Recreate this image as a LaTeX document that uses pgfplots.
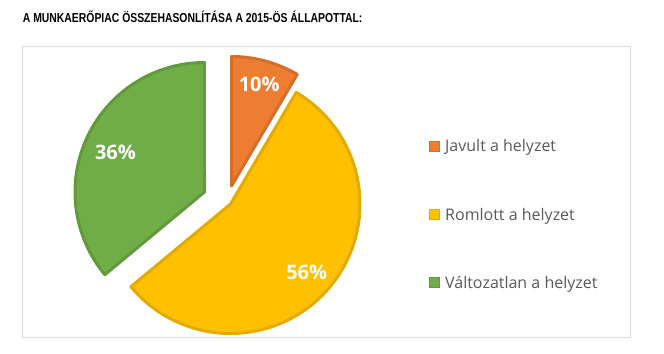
\documentclass[border=0pt]{standalone}
\usepackage{graphicx}
\usepackage{fontspec}
\setmainfont{Open Sans}
\newfontfamily\titlefont{Liberation Sans}
\usepackage{pgfplots}
\pgfplotsset{compat=1.18}
\definecolor{cOr}{HTML}{ED7D31}
\definecolor{cOrD}{HTML}{D46F2B}
\definecolor{cYe}{HTML}{FFC000}
\definecolor{cYeD}{HTML}{E3AB00}
\definecolor{cGr}{HTML}{70AD47}
\definecolor{cGrD}{HTML}{61993C}
\definecolor{cFrame}{HTML}{D9D9D9}
\definecolor{cTxt}{HTML}{595959}
\begin{document}
\begin{tikzpicture}
\begin{axis}[x=1bp, y=1bp, y dir=reverse, xmin=0, xmax=664, ymin=0, ymax=353,
  hide axis, clip=false, scale only axis]
% page extent
\addplot[draw=none, forget plot] coordinates {(0,0) (664,353)};
% frame
\addplot[draw=cFrame, line width=1bp, forget plot] coordinates {(22.5,46) (630.5,46) (630.5,337) (22.5,337) (22.5,46)};
% slices: Javult 10%, Romlott 56%, Valtozatlan 36% (angles clockwise from top, as drawn)
\addplot[fill=cOr, draw=cOrD, line width=3bp, line join=round, domain=0:30.5, samples=41, variable=\t]
  ({231.5+129.5*sin(\t)}, {186-129.5*cos(\t)}) -- (axis cs:231.5,186) -- cycle;
\addplot[fill=cYe, draw=cYeD, line width=3bp, line join=round, domain=30.5:230.3, samples=141, variable=\t]
  ({230.5+129.5*sin(\t)}, {204-129.5*cos(\t)}) -- (axis cs:230.5,204) -- cycle;
\addplot[fill=cGr, draw=cGrD, line width=3bp, line join=round, domain=230.3:360, samples=91, variable=\t]
  ({204.5+129.5*sin(\t)}, {192-129.5*cos(\t)}) -- (axis cs:204.5,192) -- cycle;
% legend squares
\addplot[only marks, mark=square*, mark size=5bp, mark options={fill=cOr, draw=cOrD, line width=0.8bp}] coordinates {(434.3,146.2)};
\addplot[only marks, mark=square*, mark size=5bp, mark options={fill=cYe, draw=cYeD, line width=0.8bp}] coordinates {(434.3,214.3)};
\addplot[only marks, mark=square*, mark size=5bp, mark options={fill=cGr, draw=cGrD, line width=0.8bp}] coordinates {(434.3,282.8)};
% texts
\node[anchor=base west, inner sep=0pt] at (axis cs:22.7,22.7) {\scalebox{0.8}[1]{\titlefont\bfseries\fontsize{13bp}{15bp}\selectfont A MUNKAERŐPIAC ÖSSZEHASONLÍTÁSA A 2015-ÖS ÁLLAPOTTAL:}};
\node[anchor=base west, inner sep=0pt, text=cTxt] at (axis cs:445,151.7) {\fontsize{16bp}{19bp}\selectfont Javult a helyzet};
\node[anchor=base west, inner sep=0pt, text=cTxt] at (axis cs:445,220) {\fontsize{16bp}{19bp}\selectfont Romlott a helyzet};
\node[anchor=base west, inner sep=0pt, text=cTxt] at (axis cs:445,288.3) {\fontsize{16bp}{19bp}\selectfont Változatlan a helyzet};
\node[inner sep=0pt, text=white] at (axis cs:259.2,83.9) {\fontsize{20bp}{24bp}\selectfont\bfseries 10\%};
\node[inner sep=0pt, text=white] at (axis cs:115.5,152.8) {\fontsize{20bp}{24bp}\selectfont\bfseries 36\%};
\node[inner sep=0pt, text=white] at (axis cs:306.7,272.5) {\fontsize{20bp}{24bp}\selectfont\bfseries 56\%};
\end{axis}
\end{tikzpicture}
\end{document}
